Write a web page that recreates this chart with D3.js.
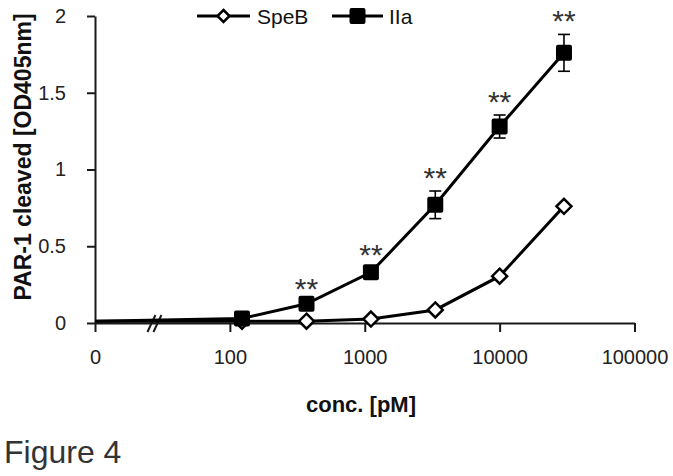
<!DOCTYPE html>
<html><head><meta charset="utf-8">
<script src="https://cdn.jsdelivr.net/npm/d3@7"></script>
<style>body{margin:0;background:#fff} svg{display:block}</style>
</head><body>
<svg id="c" width="673" height="476"></svg>
<script>
// concentrations in pM (0 plotted at the "0" position left of the axis break)
const concentrations = [0, 123, 370, 1111, 3333, 10000, 30000];
const speB    = [0.012, 0.012, 0.012, 0.026, 0.085, 0.305, 0.76];
const speBErr = [0, 0, 0, 0, 0.005, 0.01, 0.015];
const iia     = [0.012, 0.03, 0.125, 0.33, 0.77, 1.28, 1.76];
const iiaErr  = [0, 0.01, 0.012, 0.03, 0.09, 0.075, 0.12];
const significant = [false, false, true, true, true, true, true];
const xTicks = [10, 100, 1000, 10000, 100000];
const xTickLabels = ["0", "100", "1000", "10000", "100000"];
const yTicks = [0, 0.5, 1, 1.5, 2];
const yTickLabels = ["0", "0.5", "1", "1.5", "2"];
const seriesNames = ["SpeB", "IIa"];

const svg = d3.select("#c");
const ink = "#1a1a1a";
const font = "Liberation Sans, Arial, sans-serif";

const x = d3.scaleLog().domain([10, 100000]).range([95, 634.5]);
const y = d3.scaleLinear().domain([0, 2]).range([323, 16]);
const xv = c => x(c === 0 ? 10 : c);

// axes
const gx = svg.append("g").attr("transform", `translate(0,${y(0)})`)
  .call(d3.axisBottom(x).tickValues(xTicks).tickFormat((d, i) => xTickLabels[i]).tickSize(9).tickSizeOuter(0).tickPadding(18));
const gy = svg.append("g").attr("transform", `translate(${x(10)},0)`)
  .call(d3.axisLeft(y).tickValues(yTicks).tickFormat((d, i) => yTickLabels[i]).tickSize(8).tickSizeOuter(0).tickPadding(21));
[gx, gy].forEach(g => {
  g.select(".domain").attr("stroke", ink).attr("stroke-width", 2);
  g.selectAll(".tick line").attr("stroke", ink).attr("stroke-width", 2);
  g.selectAll(".tick text").attr("fill", "#222").style("font-family", font).style("font-size", "20px");
});

// axis break
const bx = (x(10) + x(100)) / 2 - 11;
[0, 6].forEach(dx => {
  svg.append("line").attr("x1", bx + dx - 4).attr("y1", y(0) + 9)
    .attr("x2", bx + dx + 4).attr("y2", y(0) - 8)
    .attr("stroke", ink).attr("stroke-width", 2);
});

const line = d3.line().x(d => xv(d[0])).y(d => y(d[1]));

function drawSeries(vals, errs, kind) {
  const pts = concentrations.map((c, i) => [c, vals[i], errs[i]]);
  svg.append("path").datum(pts).attr("d", line).attr("fill", "none")
    .attr("stroke", "#000").attr("stroke-width", 3);
  const eb = svg.append("g").attr("stroke", "#000").attr("stroke-width", 1.6);
  pts.slice(1).forEach(p => {
    if (p[2] <= 0) return;
    const cx = xv(p[0]);
    eb.append("line").attr("x1", cx).attr("x2", cx).attr("y1", y(p[1] + p[2])).attr("y2", y(p[1] - p[2]));
    [p[1] + p[2], p[1] - p[2]].forEach(v =>
      eb.append("line").attr("x1", cx - 6).attr("x2", cx + 6).attr("y1", y(v)).attr("y2", y(v)));
  });
  pts.slice(1).forEach(p => marker(xv(p[0]), y(p[1]), kind));
}

function marker(cx, cy, kind, s) {
  if (kind === "diamond") {
    const r = s || 7.5;
    svg.append("path").attr("d", `M${cx},${cy - r}L${cx + r},${cy}L${cx},${cy + r}L${cx - r},${cy}Z`)
      .attr("fill", "#fff").attr("stroke", "#000").attr("stroke-width", 2.5);
  } else {
    const h = s || 8;
    svg.append("rect").attr("x", cx - h).attr("y", cy - h).attr("width", 2 * h).attr("height", 2 * h)
      .attr("rx", 2).attr("fill", "#000");
  }
}

drawSeries(speB, speBErr, "diamond");
drawSeries(iia, iiaErr, "square");

// significance stars
concentrations.forEach((c, i) => {
  if (!significant[i]) return;
  svg.append("text").attr("x", xv(c)).attr("y", y(iia[i] + iiaErr[i]) - 3)
    .attr("text-anchor", "middle").attr("fill", "#333")
    .style("font-family", font).style("font-size", "30px").text("**");
});

// legend
const lg = [{x0: 197, x1: 250, tx: 257, kind: "diamond", s: 6}, {x0: 332, x1: 383, tx: 389, kind: "square", s: 8}];
lg.forEach((l, i) => {
  svg.append("line").attr("x1", l.x0).attr("x2", l.x1).attr("y1", 16).attr("y2", 16)
    .attr("stroke", "#000").attr("stroke-width", 3);
  marker((l.x0 + l.x1) / 2, 16, l.kind, l.s);
  svg.append("text").attr("x", l.tx).attr("y", 23.5).attr("fill", "#111")
    .style("font-family", font).style("font-size", "21px").text(seriesNames[i]);
});

// axis titles
svg.append("text").attr("x", 361).attr("y", 412).attr("text-anchor", "middle")
  .style("font-family", font).style("font-size", "22px").style("font-weight", "bold").attr("fill", "#111")
  .text("conc. [pM]");
svg.append("text").attr("transform", "translate(31,157) rotate(-90)").attr("text-anchor", "middle")
  .style("font-family", font).style("font-size", "23px").style("font-weight", "bold").attr("fill", "#111")
  .text("PAR-1 cleaved [OD405nm]");

svg.append("text").attr("x", 4).attr("y", 463).attr("fill", "#333")
  .style("font-family", font).style("font-size", "32px").text("Figure 4");
</script>
</body></html>
